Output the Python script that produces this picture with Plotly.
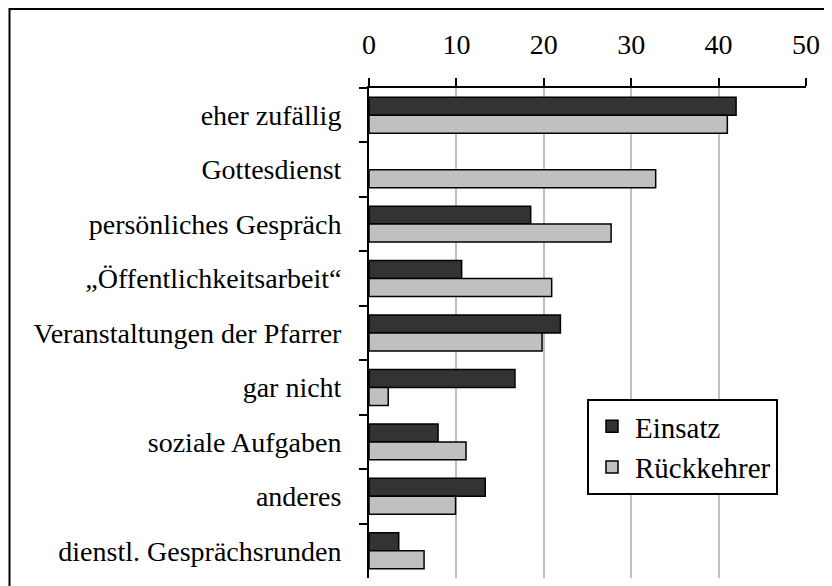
import plotly.graph_objects as go

categories = [
    "eher zufällig",
    "Gottesdienst",
    "persönliches Gespräch",
    "\u201eÖffentlichkeitsarbeit\u201c",
    "Veranstaltungen der Pfarrer",
    "gar nicht",
    "soziale Aufgaben",
    "anderes",
    "dienstl. Gesprächsrunden",
]
einsatz = [42.0, None, 18.5, 10.6, 21.9, 16.7, 7.9, 13.3, 3.4]
rueckkehrer = [41.0, 32.8, 27.7, 20.9, 19.8, 2.2, 11.1, 9.9, 6.3]
x_ticks = [0, 10, 20, 30, 40, 50]

FONT = "Liberation Serif"

# page has an 8px body margin, so the figure is sized/offset to fit the window
W, H = 824, 578
ML, MR, MT, MB = 361, 26, 80, 8
PW, PH = W - ML - MR, H - MT - MB

fig = go.Figure()
fig.add_trace(go.Bar(
    y=categories, x=einsatz, name="Einsatz", orientation="h",
    marker=dict(color="#333333", line=dict(color="black", width=1.5)),
))
fig.add_trace(go.Bar(
    y=categories, x=rueckkehrer, name="Rückkehrer", orientation="h",
    marker=dict(color="#c0c0c0", line=dict(color="black", width=1.5)),
))

fig.update_layout(
    width=W, height=H,
    margin=dict(l=ML, r=MR, t=MT, b=MB),
    paper_bgcolor="white", plot_bgcolor="white",
    barmode="group", bargap=0.34, bargroupgap=0,
    font=dict(family=FONT, size=28, color="black"),
    showlegend=True,
    legend=dict(
        x=(579 - ML) / PW, y=1 - (391 - MT) / PH, xanchor="left", yanchor="top",
        bgcolor="white", bordercolor="black", borderwidth=2,
        font=dict(family=FONT, size=29, color="black"),
        traceorder="normal", itemwidth=36,
    ),
    xaxis=dict(
        side="top", range=[0, 50], tickvals=x_ticks,
        showgrid=True, gridcolor="#c0c0c0", gridwidth=2,
        showline=True, linecolor="black", linewidth=2,
        ticks="outside", ticklen=8, tickwidth=2, tickcolor="black",
        ticklabelstandoff=13, zeroline=False, fixedrange=True,
    ),
    yaxis=dict(
        autorange="reversed", type="category",
        showline=True, linecolor="black", linewidth=2,
        ticks="outside", ticklen=8, tickwidth=2, tickcolor="black",
        tickson="boundaries", showgrid=False,
        ticklabelstandoff=20, fixedrange=True,
    ),
    shapes=[dict(
        type="rect", xref="paper", yref="paper",
        x0=(1.5 - ML) / PW, x1=1.2, y0=-0.2, y1=1 + (MT - 1) / PH,
        line=dict(color="black", width=2), fillcolor="rgba(0,0,0,0)",
        layer="above",
    )],
)

fig.write_html("out.html")
